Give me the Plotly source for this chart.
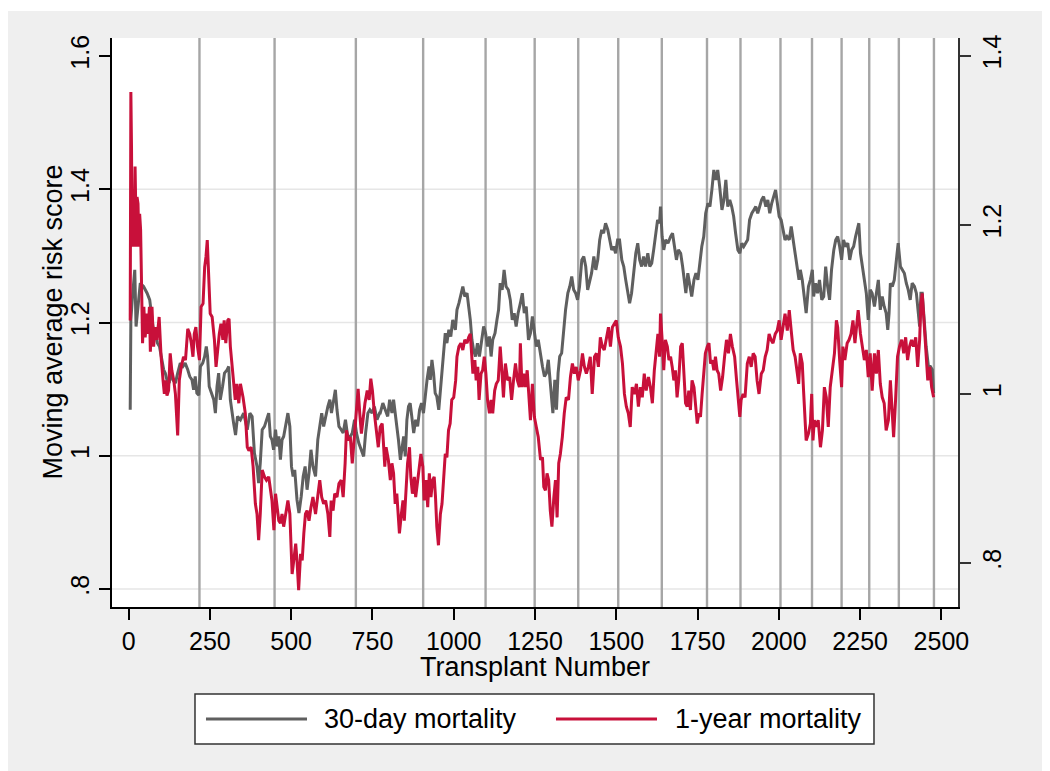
import plotly.graph_objects as go

# ---------------- data ----------------
n30 = [5, 7, 12, 19, 23, 36, 46, 57, 65, 69, 75, 82, 89, 95, 103, 108, 113, 118, 125, 130,
       136, 144, 151, 159, 167, 174, 182, 188, 195, 200, 205, 210, 216, 221, 228, 234, 239, 243, 248, 254,
       262, 267, 272, 277, 282, 289, 295, 303, 308, 313, 318, 323, 329, 335,
       344, 354, 365, 373, 380, 387, 395, 400, 405, 411, 418, 424, 431, 436, 441, 446, 452, 457, 462, 467,
       472, 477, 483, 490, 496, 501, 506, 511, 518, 524, 531, 537, 543, 549, 555, 561, 567, 575, 582, 588,
       594, 600, 606, 613, 619, 624, 631, 636, 641, 647, 654, 660, 667, 674, 682, 688, 695, 701, 708, 715,
       723, 729, 736, 742, 749, 756, 764, 772,
       774, 782, 789, 797, 803, 810, 815, 820, 825, 830, 836, 841, 846, 851, 856, 861, 866, 871, 877, 883,
       889, 895, 901, 907, 912, 918, 924, 928, 933, 938, 943, 948, 954, 961, 967, 974, 979, 985, 991, 997,
       1005, 1010, 1016, 1022, 1028, 1034, 1041, 1046, 1051, 1056, 1061, 1067, 1073, 1079, 1087, 1092, 1098,
       1104, 1110, 1115, 1120, 1127, 1133, 1138, 1143, 1149, 1155, 1161, 1168, 1174, 1180, 1186, 1192, 1198,
       1205, 1211, 1217, 1223, 1230, 1236, 1242, 1248, 1254, 1260, 1267, 1273, 1279, 1285, 1291, 1297, 1302,
       1305, 1311, 1316, 1321, 1326, 1332, 1338, 1344, 1351, 1357, 1363, 1369, 1375, 1381, 1387, 1394, 1400,
       1406, 1412, 1418, 1424, 1431, 1437, 1443, 1449, 1455, 1461, 1467, 1474, 1480, 1486, 1492, 1498, 1504,
       1510, 1517, 1523, 1529, 1535, 1541, 1547, 1554, 1560, 1566, 1572, 1578, 1584, 1590, 1597, 1603, 1609,
       1615, 1621, 1627, 1633,
       1636, 1641, 1646, 1652, 1659, 1667, 1673, 1679, 1685, 1691, 1698, 1704, 1710, 1714, 1720, 1726, 1732,
       1739, 1745, 1751, 1757, 1763, 1769, 1775, 1782, 1788, 1794, 1800, 1806, 1812, 1818, 1825, 1831, 1837,
       1843, 1849, 1855, 1861, 1867, 1874, 1880, 1886, 1892, 1898, 1904, 1910, 1917, 1923, 1929, 1935, 1941,
       1947, 1953, 1960, 1966, 1972, 1978, 1984, 1990, 1994, 2001, 2007, 2013, 2019, 2025, 2032, 2038, 2044,
       2050, 2056, 2062,
       2066, 2072, 2078, 2084, 2091, 2097, 2103, 2107, 2113, 2119, 2125, 2132, 2138, 2144, 2150, 2156, 2162,
       2169, 2175, 2181, 2187, 2193, 2199, 2205, 2212, 2218, 2224, 2230, 2236, 2242, 2246, 2251, 2257, 2263,
       2269, 2275, 2281, 2287, 2294, 2300, 2306, 2312, 2318, 2324, 2330, 2335, 2339, 2343, 2349, 2355, 2361,
       2367, 2374, 2380, 2386, 2392, 2398, 2404, 2410, 2417, 2423, 2429, 2433, 2437, 2441, 2447, 2453, 2460,
       2466, 2472, 2476]
risk30 = [1.069, 1.204, 1.239, 1.279, 1.194, 1.259, 1.254, 1.244, 1.234, 1.214, 1.194, 1.184, 1.169, 1.164,
          1.144, 1.129, 1.124, 1.114, 1.109, 1.129, 1.114, 1.109, 1.124, 1.139, 1.134, 1.139, 1.129, 1.119,
          1.114, 1.099, 1.119, 1.094, 1.091, 1.134, 1.139, 1.149, 1.164, 1.149, 1.104, 1.094, 1.084, 1.064,
          1.104, 1.124, 1.084, 1.104, 1.124, 1.129, 1.134, 1.084, 1.064, 1.049, 1.031, 1.059,
          1.054, 1.064, 1.039, 1.064, 1.059, 1.004, 0.984, 0.959, 0.989, 1.039, 1.044, 1.054, 1.064, 1.029,
          1.024, 1.009, 1.039, 1.014, 1.029, 0.994, 1.024, 1.029, 1.044, 1.064, 1.044, 0.984, 0.969, 0.979,
          0.934, 0.914, 0.939, 0.969, 0.984, 0.949, 0.974, 1.009, 0.984, 0.969, 1.024, 1.044, 1.064, 1.044,
          1.059, 1.074, 1.084, 1.064, 1.084, 1.099, 1.069, 1.044, 1.039, 1.034, 1.054, 1.029, 1.029, 1.034,
          1.054, 1.034, 1.019, 1.009, 0.999, 1.034, 1.064, 1.069, 1.064, 1.074, 1.054, 1.064,
          1.064, 1.079, 1.069, 1.059, 1.084, 1.064, 1.084, 1.064, 1.049, 1.024, 0.994, 1.014, 1.029, 0.999,
          1.054, 1.074, 1.079, 1.059, 1.034, 1.054, 1.044, 1.069, 1.079, 1.064, 1.089, 1.114, 1.134, 1.114,
          1.144, 1.124, 1.094, 1.089, 1.069, 1.114, 1.149, 1.184, 1.169, 1.189, 1.179, 1.204, 1.189, 1.219,
          1.229, 1.244, 1.254, 1.239, 1.244, 1.224, 1.204, 1.174, 1.159, 1.149, 1.169, 1.149, 1.179, 1.194,
          1.184, 1.164, 1.179, 1.149, 1.174, 1.184, 1.204, 1.219, 1.259, 1.249, 1.279, 1.254, 1.249, 1.234,
          1.204, 1.214, 1.194, 1.214,
          1.229, 1.244, 1.214, 1.224, 1.174, 1.184, 1.209, 1.184, 1.164, 1.174, 1.149, 1.134, 1.119, 1.124,
          1.144, 1.114, 1.079, 1.064, 1.114, 1.069, 1.124, 1.149, 1.154, 1.194, 1.219, 1.244, 1.254, 1.269,
          1.249, 1.244, 1.234, 1.254, 1.294, 1.299, 1.284, 1.249, 1.264, 1.274, 1.299, 1.279, 1.294, 1.324,
          1.339, 1.334, 1.349, 1.339, 1.324, 1.309, 1.314, 1.304, 1.324, 1.324, 1.294, 1.284, 1.264, 1.249,
          1.229, 1.244, 1.274, 1.304, 1.319, 1.294, 1.284, 1.299, 1.284, 1.304, 1.284, 1.289, 1.309, 1.334,
          1.354, 1.349,
          1.374, 1.329, 1.309, 1.324, 1.319, 1.329, 1.334, 1.314, 1.294, 1.309, 1.304, 1.284, 1.264, 1.244,
          1.274, 1.259, 1.239, 1.264, 1.274, 1.264, 1.289, 1.314, 1.329, 1.364, 1.379, 1.374, 1.399, 1.429,
          1.414, 1.429, 1.404, 1.369, 1.384, 1.414, 1.374, 1.384, 1.374, 1.359, 1.334, 1.309, 1.304, 1.319,
          1.314, 1.319, 1.324, 1.354, 1.364, 1.369, 1.374, 1.364, 1.374, 1.384, 1.389, 1.374, 1.384, 1.364,
          1.379, 1.389, 1.399, 1.384, 1.359, 1.354, 1.339, 1.324, 1.329, 1.324, 1.344, 1.324, 1.304, 1.284,
          1.264,
          1.279, 1.264, 1.239, 1.214, 1.254, 1.264, 1.279, 1.239, 1.259, 1.244, 1.264, 1.234, 1.239, 1.284,
          1.254, 1.234, 1.279, 1.309, 1.324, 1.329, 1.314, 1.294, 1.324, 1.314, 1.319, 1.294, 1.309, 1.314,
          1.329, 1.344, 1.349, 1.304, 1.284, 1.269, 1.244, 1.204, 1.249, 1.244, 1.224, 1.244, 1.264, 1.219,
          1.239, 1.224, 1.214, 1.189, 1.214, 1.259, 1.254, 1.264, 1.294, 1.319, 1.284, 1.279, 1.274, 1.259,
          1.249, 1.234, 1.259, 1.254, 1.244, 1.214, 1.194, 1.244, 1.244, 1.204, 1.164, 1.134, 1.134, 1.129,
          1.094]

n1y = [5, 7, 9, 11, 13, 17, 20, 22, 24, 26, 29, 32, 34, 37, 40, 43, 47, 51, 57, 60, 64, 67, 72, 77, 82,
       87, 94, 100, 106, 110, 114, 118, 123, 128, 133, 139, 144, 151, 156, 162, 169, 175, 182, 188, 193,
       198, 202, 207, 212, 218, 223, 229, 234, 238, 242, 246, 251, 257, 264, 269, 274, 279, 284, 290, 294,
       299, 305, 309, 313, 318, 323, 328, 333, 339,
       344, 352, 359, 365, 370, 377, 383, 390, 395, 400, 405, 411, 418, 424, 431, 436, 441, 447, 452, 457,
       462, 467, 472, 477, 483, 490, 496, 500, 503, 508, 514, 518, 523, 529, 534, 539, 544, 549, 555, 561,
       567, 575, 582, 588, 594, 600, 606, 613, 619, 623, 629, 634, 641, 647, 654, 660, 666, 670, 676, 682,
       688, 695, 701, 706, 711, 716, 721, 727, 734, 740, 745, 750, 756, 762, 768,
       774, 780, 784, 788, 792, 799, 805, 810, 815, 820, 825, 830, 833, 839, 844, 848, 853, 858, 864, 868,
       873, 879, 883, 889, 895, 899, 905, 909, 915, 920, 925, 930, 935, 940, 944, 948, 953, 959, 964, 969,
       974, 979, 984, 989, 994, 1000, 1006, 1010, 1016, 1022, 1028, 1034, 1041, 1046, 1051, 1055, 1059,
       1065, 1069, 1074, 1078, 1084, 1089, 1094, 1099, 1104, 1110, 1115, 1120, 1126, 1131, 1137, 1143,
       1148, 1153, 1159, 1166, 1172, 1178, 1184, 1190, 1196, 1202,
       1205, 1210, 1215, 1220, 1226, 1231, 1236, 1242, 1248, 1254, 1260, 1267, 1273, 1277, 1282, 1287,
       1292, 1297, 1302, 1308, 1313, 1318, 1323, 1328, 1334, 1340, 1346, 1353, 1359, 1365, 1371, 1377,
       1383, 1390, 1396, 1402, 1408, 1414, 1420, 1426, 1433, 1439, 1445, 1451, 1457, 1463, 1469, 1476,
       1482, 1488, 1494, 1500, 1506, 1513, 1519, 1525, 1531, 1537, 1543, 1549, 1556, 1562, 1568, 1574,
       1580, 1586, 1592, 1599, 1605, 1611, 1617, 1623, 1628, 1633,
       1636, 1641, 1646, 1651, 1657, 1662, 1667, 1672, 1677, 1682, 1687, 1692, 1698, 1703, 1708, 1713,
       1718, 1723, 1728, 1733, 1739, 1744, 1749, 1754, 1759, 1764, 1769, 1774, 1780, 1785, 1790, 1795,
       1800, 1805, 1810, 1815, 1821, 1827, 1833, 1839, 1845, 1851, 1857, 1864, 1870, 1876, 1880, 1884,
       1890, 1896, 1903, 1909, 1915, 1921, 1927, 1933, 1939, 1946, 1952, 1958, 1964, 1970, 1976, 1982,
       1989, 1995, 2001, 2007, 2013, 2019, 2026, 2032, 2038, 2044, 2050, 2056, 2061,
       2066, 2072, 2076, 2080, 2084, 2091, 2097, 2101, 2105, 2109, 2115, 2121, 2128, 2134, 2140, 2146,
       2152, 2158, 2164, 2171, 2177, 2181, 2187, 2193, 2197, 2203, 2210, 2216, 2222, 2228, 2234, 2240,
       2244, 2251, 2257, 2263, 2269, 2275, 2281, 2287, 2294, 2300, 2306, 2312, 2318, 2324, 2330, 2337,
       2343, 2349, 2353, 2359, 2365, 2371, 2378, 2384, 2390, 2396, 2402, 2408, 2414, 2421, 2427, 2433,
       2437, 2441, 2445, 2451, 2458, 2464, 2470, 2476]
risk1y = [1.087, 1.357, 1.292, 1.174, 1.237, 1.174, 1.269, 1.221, 1.174, 1.233, 1.225, 1.174, 1.213, 1.194,
          1.134, 1.060, 1.103, 1.067, 1.095, 1.071, 1.103, 1.050, 1.103, 1.056, 1.079, 1.064, 1.091, 1.044,
          1.016, 1.000, 1.016, 0.998, 1.004, 1.048, 1.028, 1.016, 1.000, 0.951, 1.016, 1.032, 1.044, 1.040,
          1.077, 1.071, 1.060, 1.044, 1.071, 1.079, 1.056, 1.040, 1.103, 1.107, 1.150, 1.162, 1.182, 1.142,
          1.095, 1.091, 1.064, 1.032, 1.056, 1.071, 1.083, 1.064, 1.087, 1.060, 1.087, 1.089, 1.056, 1.032,
          1.008, 0.993, 1.012, 0.989,
          1.012, 0.996, 0.977, 0.937, 0.933, 0.937, 0.914, 0.870, 0.858, 0.827, 0.858, 0.910, 0.902, 0.898,
          0.902, 0.890, 0.874, 0.839, 0.882, 0.866, 0.850, 0.847, 0.858, 0.843, 0.858, 0.874, 0.858, 0.819,
          0.787, 0.803, 0.823, 0.803, 0.768, 0.811, 0.803, 0.835, 0.858, 0.862, 0.850, 0.866, 0.878, 0.858,
          0.878, 0.898, 0.878, 0.870, 0.874, 0.858, 0.831, 0.874, 0.862, 0.882, 0.878, 0.894, 0.898, 0.878,
          0.918, 0.957, 0.945, 0.949, 0.918, 0.957, 0.985, 1.006, 0.977, 0.953, 0.969, 0.989, 1.004, 0.993,
          1.018, 1.004, 0.977, 0.953, 0.937,
          0.961, 0.965, 0.941, 0.914, 0.937, 0.922, 0.898, 0.918, 0.906, 0.870, 0.882, 0.858, 0.835, 0.858,
          0.874, 0.850, 0.886, 0.918, 0.937, 0.902, 0.882, 0.902, 0.878, 0.898, 0.918, 0.929, 0.914, 0.874,
          0.898, 0.866, 0.906, 0.878, 0.898, 0.902, 0.878, 0.843, 0.821, 0.858, 0.870, 0.898, 0.929, 0.925,
          0.957, 0.965, 0.993, 0.996, 1.016, 1.044, 1.056, 1.060, 1.052, 1.064, 1.060, 1.067, 1.071, 1.048,
          1.024, 1.040, 1.016, 1.032, 0.993, 1.024, 1.028, 1.044, 1.024, 0.993, 0.977, 0.993, 0.977, 1.004,
          1.012, 1.016, 1.056, 1.028, 0.996, 1.036, 1.016, 1.020, 0.993, 1.016, 1.036, 1.016, 1.008,
          1.060, 1.008, 1.024, 1.008, 1.028, 0.993, 0.969, 1.012, 0.973, 0.961, 0.949, 0.922, 0.925, 0.890,
          0.886, 0.906, 0.898, 0.862, 0.843, 0.878, 0.898, 0.854, 0.918, 0.929, 0.949, 0.977, 0.996, 0.993,
          1.020, 1.036, 1.024, 1.032, 1.016, 1.028, 1.048, 1.032, 1.024, 1.032, 1.044, 1.000, 1.044, 1.048,
          1.032, 1.067, 1.056, 1.052, 1.064, 1.079, 1.056, 1.079, 1.083, 1.087, 1.067, 1.056, 1.036, 1.000,
          0.985, 0.977, 0.961, 1.008, 1.000, 1.012, 0.985, 1.008, 0.996, 1.024, 1.004, 1.020, 1.008, 0.989,
          1.028, 1.056, 1.071, 1.044,
          1.095, 1.064, 1.028, 1.064, 1.056, 1.040, 1.044, 1.032, 1.016, 1.028, 0.996, 1.016, 1.056, 1.060,
          1.024, 0.989, 0.985, 1.004, 0.981, 1.016, 1.008, 0.985, 0.965, 0.977, 0.973, 1.000, 1.024, 1.048,
          1.056, 1.060, 1.036, 1.040, 1.028, 1.044, 1.028, 1.024, 1.004, 1.020, 1.044, 1.064, 1.048, 1.071,
          1.056, 1.044, 1.016, 0.993, 0.973, 0.993, 1.000, 0.996, 1.036, 1.044, 1.032, 1.048, 1.044, 1.016,
          1.000, 1.024, 1.028, 1.044, 1.052, 1.071, 1.064, 1.060, 1.071, 1.075, 1.087, 1.064, 1.079, 1.095,
          1.075, 1.099, 1.075, 1.052, 1.044, 1.028, 1.012,
          1.048, 1.036, 1.004, 0.981, 0.945, 0.953, 0.965, 1.000, 0.945, 0.969, 0.961, 0.969, 0.937, 0.957,
          1.008, 0.996, 0.961, 1.008, 1.024, 1.048, 1.087, 1.079, 1.040, 1.008, 1.056, 1.040, 1.060, 1.064,
          1.071, 1.087, 1.060, 1.087, 1.099, 1.071, 1.056, 1.040, 1.052, 1.020, 1.048, 1.004, 1.048, 1.024,
          1.052, 1.012, 0.996, 0.989, 0.957, 0.969, 1.016, 0.965, 0.949, 0.993, 1.044, 1.056, 1.064, 1.048,
          1.067, 1.040, 1.056, 1.064, 1.056, 1.067, 1.032, 1.064, 1.107, 1.119, 1.095, 1.056, 1.016, 1.032,
          1.008, 0.996]

year_marks = [218, 449, 699, 906, 1098, 1249, 1383, 1506, 1640, 1779, 1882, 2005, 2102, 2193, 2278,
              2369, 2477]
x_ticks = [0, 250, 500, 750, 1000, 1250, 1500, 1750, 2000, 2250, 2500]
yl_ticks = [0.8, 1.0, 1.2, 1.4, 1.6]
yl_text = [".8", "1", "1.2", "1.4", "1.6"]
yr_ticks = [0.8, 1.0, 1.2, 1.4]
yr_text = [".8", "1", "1.2", "1.4"]
grid_vals = [0.8, 1.0, 1.2, 1.4]
series_names = ["30-day mortality", "1-year mortality"]
x_title = "Transplant Number"
y_title = "Moving average risk score"

# ---------------- styling ----------------
FONT = "Liberation Sans, Arial, Helvetica, sans-serif"
GRAY_LINE = "#5f5f5f"
RED_LINE = "#c8103a"
BG = "#efefef"
LW = 3

fig = go.Figure()
fig.add_trace(go.Scatter(x=n30, y=risk30, mode="lines", name=series_names[0],
                         line=dict(color=GRAY_LINE, width=LW), yaxis="y"))
fig.add_trace(go.Scatter(x=n1y, y=risk1y, mode="lines", name=series_names[1],
                         line=dict(color=RED_LINE, width=LW), yaxis="y2"))

shapes = []
# outer light-gray graph region and white plot region
shapes.append(dict(type="rect", xref="paper", yref="paper", x0=-0.1241, x1=1.25, y0=-0.45, y1=1.0475,
                   fillcolor=BG, line=dict(width=0), layer="below"))
shapes.append(dict(type="rect", xref="paper", yref="paper", x0=0, x1=1, y0=0, y1=1,
                   fillcolor="white", line=dict(width=0), layer="below"))
for g in grid_vals:
    shapes.append(dict(type="line", xref="paper", yref="y", x0=0, x1=1, y0=g, y1=g,
                       line=dict(color="#e6e6e6", width=1.6), layer="below"))
for v in year_marks:
    shapes.append(dict(type="line", xref="x", yref="paper", x0=v, x1=v, y0=0, y1=1,
                       line=dict(color="#a6a6a6", width=2.4), layer="below"))

# legend box (drawn manually to mimic the long line keys)
shapes.append(dict(type="rect", xref="paper", yref="paper", x0=0.0981, x1=0.9007, y0=-0.2408, y1=-0.1529,
                   fillcolor="white", line=dict(color="#333333", width=1.5), layer="above"))
shapes.append(dict(type="line", xref="paper", yref="paper", x0=0.1111, x1=0.2305, y0=-0.1968, y1=-0.1968,
                   line=dict(color=GRAY_LINE, width=LW), layer="above"))
shapes.append(dict(type="line", xref="paper", yref="paper", x0=0.5248, x1=0.6442, y0=-0.1968, y1=-0.1968,
                   line=dict(color=RED_LINE, width=LW), layer="above"))

annotations = [
    dict(text=series_names[0], xref="paper", yref="paper", x=0.2482, y=-0.1968, xanchor="left",
         yanchor="middle", showarrow=False, font=dict(family=FONT, size=27, color="black")),
    dict(text=series_names[1], xref="paper", yref="paper", x=0.6628, y=-0.1968, xanchor="left",
         yanchor="middle", showarrow=False, font=dict(family=FONT, size=27, color="black")),
    dict(text=x_title, xref="paper", yref="paper", x=0.5, y=-0.106, xanchor="center",
         yanchor="middle", showarrow=False, font=dict(family=FONT, size=27, color="black")),
    dict(text=y_title, xref="paper", yref="paper", x=-0.0709, y=0.5, xanchor="center",
         yanchor="middle", textangle=-90, showarrow=False, font=dict(family=FONT, size=27, color="black")),
]

# the page body adds an 8px offset; margins compensate so the plot lands where the reference has it
fig.update_layout(
    width=1050, height=771,
    margin=dict(l=104, r=100, t=30, b=172, autoexpand=False),
    paper_bgcolor="white", plot_bgcolor="white",
    showlegend=False,
    font=dict(family=FONT, size=25, color="black"),
    shapes=shapes, annotations=annotations,
    xaxis=dict(range=[-51, 2551], tickvals=x_ticks, ticks="outside", ticklen=11, tickwidth=1.5,
               tickcolor="black", showline=True, linecolor="black", linewidth=1.5, mirror=False,
               showgrid=False, zeroline=False, tickfont=dict(size=25)),
    yaxis=dict(range=[0.773, 1.627], tickvals=yl_ticks, ticktext=yl_text, tickangle=-90,
               ticks="outside", ticklen=11, tickwidth=1.5, tickcolor="black", showline=True,
               linecolor="black", linewidth=1.5, showgrid=False, zeroline=False, tickfont=dict(size=25)),
    yaxis2=dict(range=[0.748, 1.421], overlaying="y", side="right", tickvals=yr_ticks, ticktext=yr_text,
                tickangle=-90, ticks="outside", ticklen=11, tickwidth=1.5, tickcolor="#333333",
                showline=True, linecolor="#333333", linewidth=1.5, showgrid=False, zeroline=False,
                tickfont=dict(size=25)),
)

fig.write_html("out.html")
